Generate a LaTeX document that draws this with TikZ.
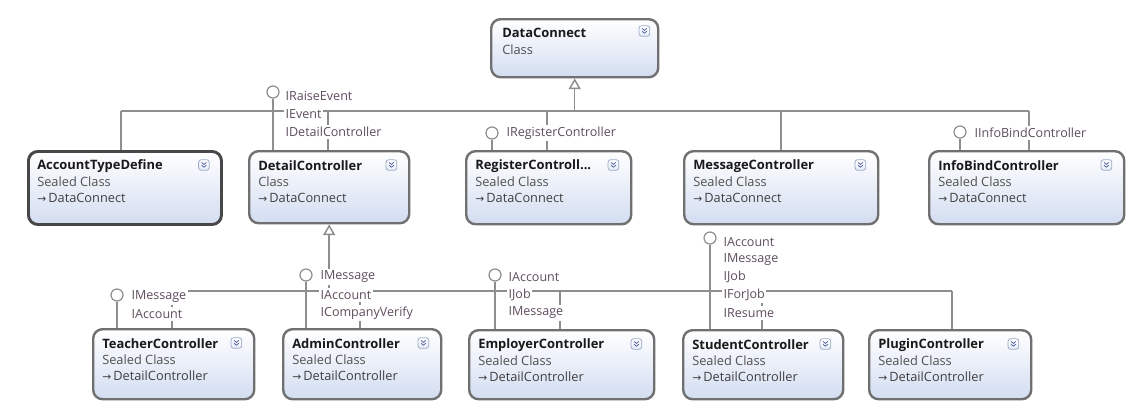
\documentclass[tikz,border=0pt]{standalone}
\usepackage{fontspec}
\setmainfont{Open Sans}
\newfontfamily\symfont{DejaVu Sans}
\usetikzlibrary{calc,arrows.meta}

\definecolor{boxline}{HTML}{707070}
\definecolor{boxdark}{HTML}{474747}
\definecolor{boxfill}{HTML}{D3DDF1}
\definecolor{wire}{HTML}{8E8E8E}
\definecolor{ifacetext}{HTML}{5E4D5E}
\definecolor{kindtext}{HTML}{505050}
\definecolor{togline}{HTML}{9DABC8}
\definecolor{togchev}{HTML}{5867A0}

\tikzset{
  cbox/.style={draw=boxline, line width=1.8pt, rounded corners=7pt,
    top color=white, bottom color=boxfill, inner sep=0pt},
  ctitle/.style={anchor=west, inner sep=0pt, text=black!90,
    font=\bfseries\fontsize{9.7}{11}\selectfont},
  ckind/.style={anchor=west, inner sep=0pt, text=kindtext,
    font=\fontsize{9.6}{11}\selectfont},
  cbase/.style={anchor=west, inner sep=0pt, text=black!75,
    font=\fontsize{9.6}{11}\selectfont},
  tog/.style={draw=togline, line width=0.6pt, rounded corners=2pt,
    top color=white, bottom color=boxfill!60, minimum size=8pt, inner sep=0pt},
  chev/.style={draw=togchev, line width=0.6pt},
  conn/.style={draw=wire, line width=1.1pt},
  inherit/.style={conn, -{Triangle[open, length=8pt, width=9pt]}},
  lolli/.style={circle, draw=wire, line width=0.9pt, fill=white,
    minimum size=9pt, inner sep=0pt},
  iface/.style={anchor=west, fill=white, inner xsep=1pt, inner ysep=1.6pt,
    text=ifacetext, font=\fontsize{9.4}{11}\selectfont},
}

% class shape: name, x1, y1, x2, y2, title, kind, base class, extra style
\newcommand{\classbox}[9]{%
  \node[cbox,#9,minimum width={(#4-#2)*0.75pt},minimum height={(#5-#3)*0.75pt},
        anchor=north west] (#1) at (#2,#3) {};
  \node[ctitle] (#1-t) at ($(#1.north west)+(10,16)$) {#6};
  \node[ckind] (#1-k) at ($(#1.north west)+(10,32)$) {#7};
  \node[cbase] (#1-b) at ($(#1.north west)+(10,48)$) {{\symfont\fontsize{8}{8}\selectfont →}\,#8};
  \node[tog] (#1-g) at ($(#1.north east)+(-19,15)$) {};
  \draw[chev] ($(#1-g.center)+(-2.4,-2.6)$) -- ++(2.4,2) -- ++(2.4,-2)
              ($(#1-g.center)+(-2.4,0.2)$) -- ++(2.4,2) -- ++(2.4,-2);
}

\begin{document}
\begin{tikzpicture}[x=0.75pt,y=-0.75pt]
\useasboundingbox[fill=white] (0,0) rectangle (1141,401);

% ---- base class ----
\node[cbox,minimum width={167*0.75pt},minimum height={58*0.75pt},anchor=north west]
  (dc) at (490,18) {};
\node[ctitle] (dc-t) at ($(dc.north west)+(12,15)$) {DataConnect};
\node[ckind] (dc-k) at ($(dc.north west)+(12,32)$) {Class};
\node[tog] (dc-g) at ($(dc.north east)+(-15,13)$) {};
\draw[chev] ($(dc-g.center)+(-2.4,-2.6)$) -- ++(2.4,2) -- ++(2.4,-2)
            ($(dc-g.center)+(-2.4,0.2)$) -- ++(2.4,2) -- ++(2.4,-2);

% ---- bus coordinates ----
\coordinate (topL) at (121,111);
\coordinate (topR) at (1029,111);
\coordinate (botL) at (172,291);
\coordinate (botR) at (952,291);

% ---- first row of derived classes ----
\classbox{atd}{27}{150}{220}{223}{AccountTypeDefine}{Sealed Class}{DataConnect}{draw=boxdark,line width=2.2pt}
\classbox{det}{248}{150}{408}{222}{DetailController}{Class}{DataConnect}{}
\classbox{reg}{465}{150}{630}{223}{RegisterControll...}{Sealed Class}{DataConnect}{}
\classbox{msg}{683}{150}{877}{223}{MessageController}{Sealed Class}{DataConnect}{}
\classbox{ibc}{928}{150}{1123}{223}{InfoBindController}{Sealed Class}{DataConnect}{}

% ---- second row ----
\classbox{tea}{92}{328}{253}{398}{TeacherController}{Sealed Class}{DetailController}{}
\classbox{adm}{282}{328}{440}{398}{AdminController}{Sealed Class}{DetailController}{}
\classbox{emp}{468}{329}{653}{398}{EmployerController}{Sealed Class}{DetailController}{}
\classbox{stu}{682}{329}{842}{398}{StudentController}{Sealed Class}{DetailController}{}
\classbox{plg}{868}{329}{1030}{398}{PluginController}{Sealed Class}{DetailController}{}

% ---- inheritance from DataConnect ----
\draw[conn] (topL) -- (topR);
\draw[inherit] (dc.south |- topL) -- (dc.south);
\draw[conn] (topL) -- (topL |- atd.north);
\draw[conn] (328,111) coordinate (jdet) -- (jdet |- det.north);
\draw[conn] (547,111) coordinate (jreg) -- (jreg |- reg.north);
\draw[conn] (781,111) coordinate (jmsg) -- (jmsg |- msg.north);
\draw[conn] (topR) -- (topR |- ibc.north);

% ---- inheritance from DetailController ----
\draw[conn] (botL) -- (botR);
\draw[inherit] (det.south |- botL) -- (det.south);
\draw[conn] (botL) -- (botL |- tea.north);
\draw[conn] (360,291) coordinate (jadm) -- (jadm |- adm.north);
\draw[conn] (560,291) coordinate (jemp) -- (jemp |- emp.north);
\draw[conn] (762,291) coordinate (jstu) -- (jstu |- stu.north);
\draw[conn] (botR) -- (botR |- plg.north);

% ---- implemented interfaces ----
\node[lolli] (detI) at (273,92) {};
\draw[conn] (detI.south) -- (detI.south |- det.north);
\node[lolli] (regI) at (492,133) {};
\draw[conn] (regI.south) -- (regI.south |- reg.north);
\node[lolli] (ibcI) at (960,132) {};
\draw[conn] (ibcI.south) -- (ibcI.south |- ibc.north);
\node[lolli] (teaI) at (117,295) {};
\draw[conn] (teaI.south) -- (teaI.south |- tea.north);
\node[lolli] (admI) at (306,275) {};
\draw[conn] (admI.south) -- (admI.south |- adm.north);
\node[lolli] (empI) at (495,275) {};
\draw[conn] (empI.south) -- (empI.south |- emp.north);
\node[lolli] (stuI) at (710,238) {};
\draw[conn] (stuI.south) -- (stuI.south |- stu.north);

\node[iface] (detL1) at (284,96) {IRaiseEvent};
\node[iface] (detL2) at (284,114) {IEvent};
\node[iface] (detL3) at (284,132) {IDetailController};
\node[iface] (regL1) at (505,133) {IRegisterController};
\node[iface] (ibcL1) at (973,133) {IInfoBindController};

\node[iface] (teaL1) at (130,297) {IMessage};
\node[iface] (teaL2) at (130,314) {IAccount};
\node[iface] (admL1) at (319,277) {IMessage};
\node[iface] (admL2) at (319,295) {IAccount};
\node[iface] (admL3) at (319,313) {ICompanyVerify};
\node[iface] (empL1) at (507,277) {IAccount};
\node[iface] (empL2) at (507,295) {IJob};
\node[iface] (empL3) at (507,313) {IMessage};
\node[iface] (stuL1) at (722,242) {IAccount};
\node[iface] (stuL2) at (722,260) {IMessage};
\node[iface] (stuL3) at (722,277) {IJob};
\node[iface] (stuL4) at (722,295) {IForJob};
\node[iface] (stuL5) at (722,313) {IResume};
\end{tikzpicture}
\end{document}
